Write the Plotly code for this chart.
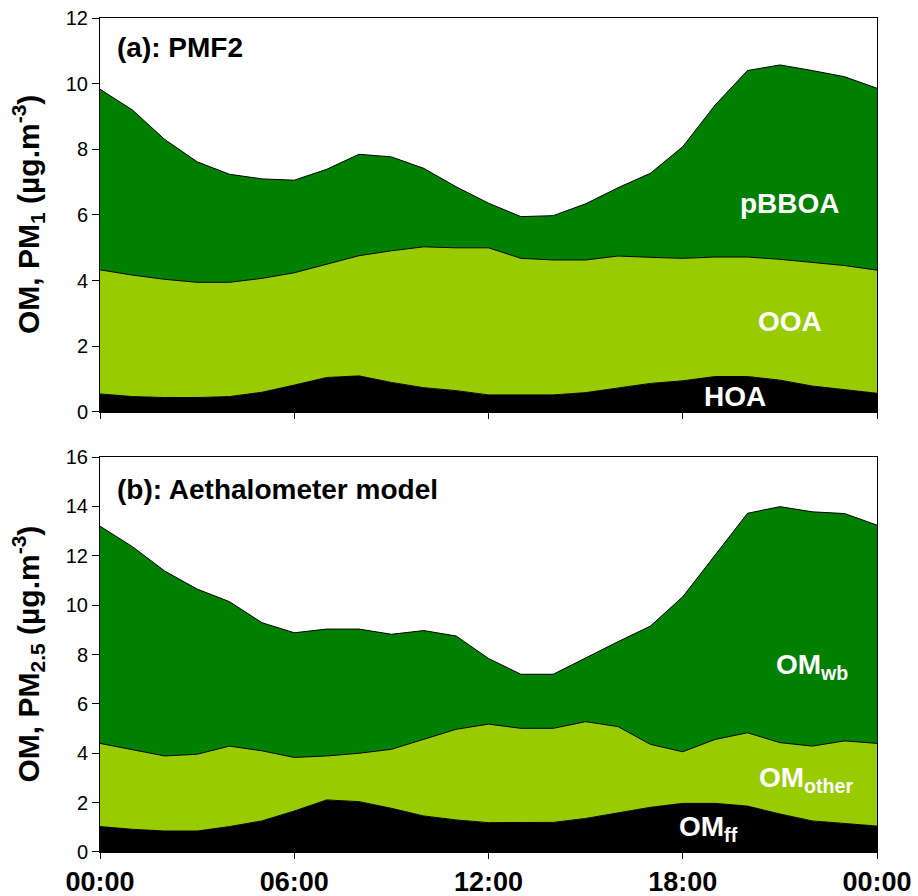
import plotly.graph_objects as go

hours = list(range(25))
tick_hours = [0, 6, 12, 18, 24]
tick_labels = ["00:00", "06:00", "12:00", "18:00", "00:00"]

# Panel (a): PMF2 (µg/m3)
hoa = [0.55, 0.47, 0.44, 0.44, 0.47, 0.60, 0.82, 1.05, 1.10, 0.90, 0.74, 0.65, 0.52,
       0.52, 0.52, 0.59, 0.74, 0.87, 0.95, 1.08, 1.08, 0.97, 0.79, 0.67, 0.57]
ooa = [3.78, 3.70, 3.60, 3.51, 3.48, 3.47, 3.42, 3.45, 3.66, 4.01, 4.29, 4.35, 4.48,
       4.16, 4.11, 4.04, 4.01, 3.84, 3.73, 3.64, 3.64, 3.68, 3.77, 3.79, 3.75]
pbboa = [5.50, 5.03, 4.26, 3.67, 3.29, 3.03, 2.82, 2.89, 3.09, 2.86, 2.39, 1.86, 1.36,
         1.27, 1.35, 1.71, 2.08, 2.56, 3.40, 4.63, 5.68, 5.92, 5.84, 5.75, 5.54]

# Panel (b): Aethalometer model (µg/m3)
om_ff = [1.03, 0.92, 0.85, 0.85, 1.03, 1.26, 1.66, 2.11, 2.04, 1.77, 1.46, 1.30, 1.19,
         1.20, 1.20, 1.36, 1.59, 1.81, 1.97, 1.97, 1.86, 1.54, 1.26, 1.16, 1.05]
om_other = [3.37, 3.21, 3.04, 3.11, 3.26, 2.84, 2.17, 1.78, 1.96, 2.39, 3.12, 3.67, 3.99,
            3.81, 3.81, 3.92, 3.49, 2.55, 2.09, 2.59, 2.97, 2.89, 3.03, 3.34, 3.35]
om_wb = [8.80, 8.24, 7.49, 6.69, 5.85, 5.19, 5.05, 5.14, 5.03, 4.66, 4.39, 3.78, 2.66,
         2.19, 2.19, 2.59, 3.44, 4.79, 6.28, 7.47, 8.89, 9.56, 9.49, 9.21, 8.84]

BLACK = "#000000"
LIGHT = "#99CC00"
DARK = "#008000"
FONT = "Liberation Sans, Arial, sans-serif"

fig = go.Figure()

def add_stack(y, color, group, xa, ya, name):
    fig.add_trace(go.Scatter(
        x=hours, y=y, mode="lines", stackgroup=group, name=name,
        line=dict(color="black", width=1), fillcolor=color,
        xaxis=xa, yaxis=ya, showlegend=False))

add_stack(hoa, BLACK, "a", "x", "y", "HOA")
add_stack(ooa, LIGHT, "a", "x", "y", "OOA")
add_stack(pbboa, DARK, "a", "x", "y", "pBBOA")
add_stack(om_ff, BLACK, "b", "x2", "y2", "OMff")
add_stack(om_other, LIGHT, "b", "x2", "y2", "OMother")
add_stack(om_wb, DARK, "b", "x2", "y2", "OMwb")

axis_common = dict(showline=True, linecolor="black", linewidth=1, mirror=True,
                   showgrid=False, zeroline=False, ticks="outside", tickcolor="black",
                   automargin=False)

fig.update_layout(
    width=918, height=896,
    margin=dict(l=100, r=41, t=18, b=44),
    paper_bgcolor="white", plot_bgcolor="white",
    font=dict(family=FONT, color="black"),
    xaxis=dict(axis_common, range=[0, 24], domain=[0, 1], anchor="y",
               tickvals=tick_hours, showticklabels=False, ticklen=6),
    yaxis=dict(axis_common, range=[0, 12], domain=[0.5276, 1], anchor="x",
               tickvals=[0, 2, 4, 6, 8, 10, 12], ticklen=7,
               tickfont=dict(size=20, family=FONT)),
    xaxis2=dict(axis_common, range=[0, 24], domain=[0, 1], anchor="y2",
                tickvals=tick_hours, ticktext=["<b>%s</b>" % t for t in tick_labels],
                ticklen=6, tickfont=dict(size=27, family=FONT)),
    yaxis2=dict(axis_common, range=[0, 16], domain=[0, 0.4736], anchor="x2",
                tickvals=[0, 2, 4, 6, 8, 10, 12, 14, 16], ticklen=7,
                tickfont=dict(size=20, family=FONT)),
)

big = dict(family=FONT, size=28, color="black")
white = dict(family=FONT, size=28, color="white")

anns = [
    dict(text="<b>(a): PMF2</b>", x=0, y=1, xref="paper", yref="y domain",
         xanchor="left", yanchor="middle", xshift=15, yshift=-29, font=big),
    dict(text="<b>(b): Aethalometer model</b>", x=0, y=1, xref="paper", yref="y2 domain",
         xanchor="left", yanchor="middle", xshift=15, yshift=-32, font=big),
    dict(text="<b>OM, PM<sub>1</sub> (µg.m<sup>-3</sup>)</b>", x=0, y=0.5,
         xref="paper", yref="y domain", textangle=-90, xanchor="center",
         yanchor="middle", xshift=-72, font=dict(family=FONT, size=30, color="black")),
    dict(text="<b>OM, PM<sub>2.5</sub> (µg.m<sup>-3</sup>)</b>", x=0, y=0.5,
         xref="paper", yref="y2 domain", textangle=-90, xanchor="center",
         yanchor="middle", xshift=-72, font=dict(family=FONT, size=30, color="black")),
    dict(text="<b>pBBOA</b>", x=21.3, y=6.35, xref="x", yref="y", showarrow=False, font=white),
    dict(text="<b>OOA</b>", x=21.3, y=2.75, xref="x", yref="y", showarrow=False, font=white),
    dict(text="<b>HOA</b>", x=19.6, y=0.47, xref="x", yref="y", showarrow=False, font=white),
    dict(text="<b>OM<sub>wb</sub></b>", x=22.0, y=7.5, xref="x2", yref="y2", showarrow=False, font=white),
    dict(text="<b>OM<sub>other</sub></b>", x=21.8, y=2.95, xref="x2", yref="y2", showarrow=False, font=white),
    dict(text="<b>OM<sub>ff</sub></b>", x=18.8, y=0.95, xref="x2", yref="y2", showarrow=False, font=white),
]
for a in anns:
    a.setdefault("showarrow", False)
fig.update_layout(annotations=anns)

fig.write_html("out.html")
